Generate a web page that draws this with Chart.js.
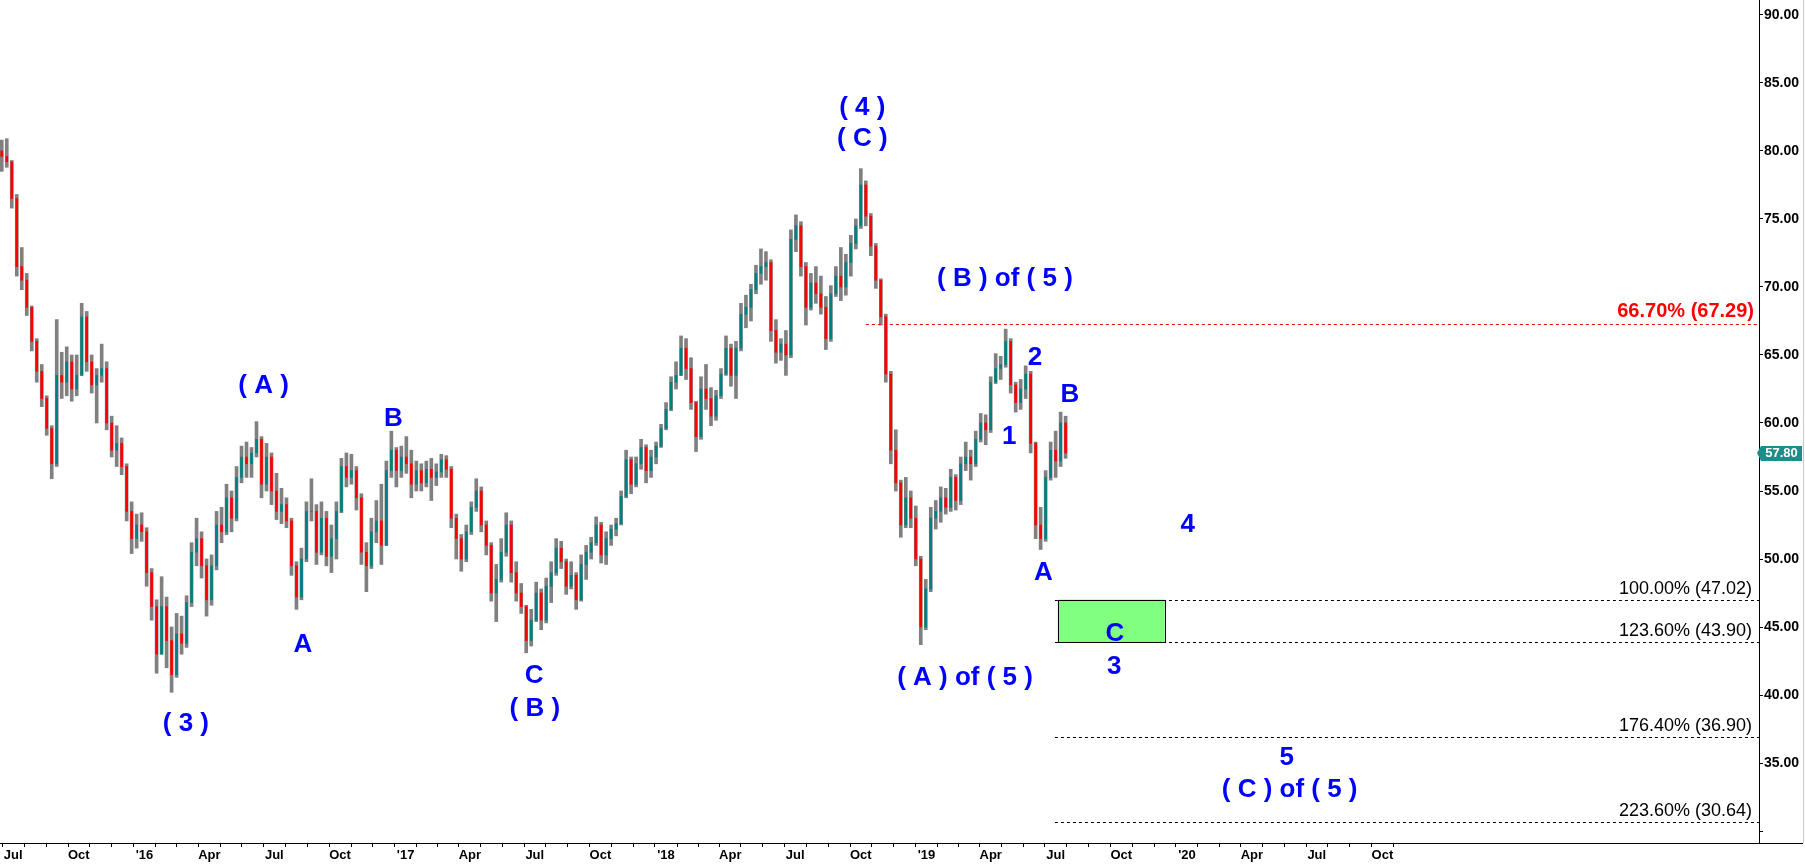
<!DOCTYPE html>
<html>
<head>
<meta charset="utf-8">
<title>Elliott wave count</title>
<script src="https://cdn.jsdelivr.net/npm/chart.js@4.4.1/dist/chart.umd.min.js"></script>
<style>
  html, body { margin: 0; padding: 0; background: #fff; }
  #wrap { width: 1805px; height: 866px; }
</style>
</head>
<body>
<div id="wrap"><canvas id="chart" width="1805" height="866"></canvas></div>
<script>
// one bar per week
const firstWeek = '2015-06-15';
const opens = [
  80.0, 79.6, 79.2, 76.5, 71.5, 70.5, 68.5, 66.0, 63.8, 61.8, 59.6, 57.0, 63.5, 63.0, 64.5, 62.5,
  63.5, 67.8, 64.5, 62.8, 63.5, 64.0, 60.0, 58.0, 58.5, 56.8, 53.5, 51.5, 52.5, 52.0, 49.0, 46.5,
  43.0, 46.5, 44.0, 41.5, 44.5, 43.8, 46.8, 50.5, 51.5, 49.5, 47.0, 49.5, 52.5, 52.0, 54.5, 53.0,
  56.0, 57.5, 57.0, 57.8, 58.8, 55.5, 57.5, 55.0, 53.5, 54.0, 52.8, 49.5, 47.2, 50.0, 53.5, 53.5,
  50.5, 53.0, 50.2, 51.5, 53.5, 56.8, 56.0, 56.5, 54.5, 50.5, 49.5, 52.0, 52.8, 51.0, 56.5, 58.0,
  56.5, 57.5, 57.0, 55.5, 56.5, 55.6, 56.6, 56.0, 56.4, 57.3, 56.6, 53.0, 51.5, 50.0, 52.0, 53.8,
  55.0, 52.5, 51.0, 47.5, 48.5, 50.5, 52.5, 49.0, 47.5, 46.5, 44.0, 45.5, 47.5, 45.5, 48.0, 49.0,
  50.8, 49.8, 48.0, 48.8, 47.0, 49.6, 50.5, 51.2, 52.5, 50.3, 51.5, 52.2, 52.6, 54.6, 57.3, 55.5,
  57.0, 58.2, 56.5, 57.5, 58.3, 59.6, 61.0, 63.0, 63.5, 65.5, 64.0, 61.5, 59.0, 62.5, 61.8, 60.5,
  62.0, 63.6, 65.5, 63.5, 65.5, 68.0, 68.5, 69.8, 71.0, 71.5, 71.8, 66.8, 65.2, 65.8, 65.0, 73.5,
  74.5, 71.5, 68.5, 70.3, 69.5, 68.5, 66.2, 69.5, 70.8, 70.0, 71.8, 73.2, 74.5, 77.5, 75.2, 73.0,
  70.5, 67.8, 63.6, 58.0, 55.6, 52.5, 54.5, 53.0, 50.0, 45.0, 47.8, 53.0, 53.5, 54.5, 53.8, 56.0,
  54.3, 57.0, 57.5, 57.0, 58.8, 60.0, 59.5, 63.0, 64.0, 64.3, 66.0, 62.8, 61.5, 62.5, 63.6, 58.5,
  52.5, 51.5, 56.0, 58.0, 57.2, 60.0
];
const highs = [
  80.8, 80.9, 79.3, 76.8, 72.9, 71.0, 68.6, 66.2, 64.3, 62.0, 59.8, 67.6, 65.2, 65.6, 65.0, 65.0,
  68.8, 68.2, 65.0, 64.0, 65.8, 64.5, 60.5, 59.8, 58.9, 57.0, 54.2, 53.3, 53.4, 52.3, 49.3, 47.0,
  48.7, 47.2, 45.0, 46.0, 45.8, 47.3, 51.2, 53.0, 52.0, 50.0, 50.3, 53.5, 53.8, 55.5, 55.0, 56.8,
  58.3, 58.6, 58.2, 60.1, 59.0, 58.5, 57.8, 56.3, 55.2, 54.5, 53.0, 49.8, 50.8, 54.2, 55.9, 54.0,
  54.2, 53.5, 52.5, 54.2, 57.4, 57.8, 57.7, 56.8, 54.8, 51.2, 53.0, 54.3, 55.5, 57.2, 59.4, 58.2,
  58.3, 59.0, 58.0, 57.2, 57.0, 57.2, 57.4, 57.0, 57.7, 57.6, 56.8, 53.3, 51.8, 52.5, 54.2, 55.9,
  55.3, 52.8, 51.2, 49.6, 51.5, 53.4, 52.8, 49.8, 48.2, 46.6, 46.3, 48.3, 47.8, 48.6, 49.8, 51.5,
  51.3, 50.0, 49.8, 49.0, 50.3, 51.0, 51.6, 53.1, 52.7, 52.0, 52.5, 53.0, 55.0, 58.0, 57.5, 57.5,
  58.8, 58.4, 58.0, 58.6, 59.9, 61.5, 63.4, 64.5, 66.4, 66.2, 64.8, 61.6, 63.4, 64.3, 62.6, 62.4,
  64.0, 66.4, 65.8, 66.0, 68.8, 69.4, 70.2, 71.6, 72.8, 72.6, 72.0, 67.6, 66.2, 66.8, 74.2, 75.3,
  74.8, 71.8, 71.0, 71.5, 70.8, 69.3, 70.1, 71.5, 72.9, 72.4, 73.8, 75.0, 78.7, 77.8, 75.4, 73.2,
  70.6, 68.0, 63.8, 59.5, 55.8, 56.0, 55.0, 53.9, 50.2, 48.5, 53.8, 54.3, 55.3, 55.2, 56.6, 56.2,
  57.5, 58.6, 58.0, 59.4, 60.7, 60.6, 63.4, 65.1, 64.9, 66.9, 66.2, 63.0, 63.2, 64.2, 63.8, 58.6,
  53.8, 56.5, 58.6, 59.4, 60.8, 60.5
];
const lows = [
  78.5, 78.8, 75.8, 70.8, 69.8, 67.9, 65.3, 63.0, 61.2, 59.1, 55.9, 56.8, 61.8, 62.0, 61.6, 62.0,
  63.5, 63.8, 62.2, 60.0, 63.0, 59.5, 57.5, 56.8, 56.2, 52.8, 50.4, 50.8, 51.3, 48.0, 45.5, 41.6,
  43.0, 42.0, 40.2, 41.3, 43.0, 43.5, 46.5, 49.5, 48.6, 45.8, 46.6, 49.2, 51.2, 51.8, 52.0, 52.8,
  55.6, 56.0, 56.0, 57.5, 54.5, 55.0, 54.0, 52.9, 52.6, 52.3, 48.8, 46.3, 47.0, 49.8, 52.8, 49.6,
  50.3, 49.5, 49.0, 50.0, 53.4, 55.3, 55.5, 53.6, 49.6, 47.6, 49.3, 51.2, 49.6, 51.0, 56.0, 55.3,
  56.0, 56.3, 54.5, 55.0, 55.0, 55.3, 54.3, 55.4, 56.0, 56.0, 52.3, 50.0, 49.1, 49.8, 51.8, 53.5,
  52.0, 50.3, 46.9, 45.4, 48.3, 50.2, 48.3, 46.9, 46.0, 43.1, 43.6, 45.4, 44.8, 45.3, 46.8, 48.8,
  49.3, 47.4, 47.8, 46.3, 46.9, 48.5, 50.0, 51.0, 49.7, 49.6, 51.0, 51.7, 52.5, 54.5, 54.8, 55.3,
  56.6, 55.6, 56.0, 57.0, 58.2, 59.5, 60.9, 62.5, 63.5, 63.2, 61.0, 57.9, 58.8, 61.0, 59.8, 60.2,
  61.8, 63.5, 62.7, 61.8, 65.3, 67.0, 67.5, 69.5, 70.2, 70.5, 66.0, 64.4, 64.6, 63.5, 64.8, 72.6,
  70.8, 67.2, 68.3, 68.8, 68.0, 65.4, 66.0, 69.3, 69.0, 69.4, 70.8, 72.8, 74.3, 74.5, 72.3, 69.9,
  67.2, 63.0, 57.0, 55.0, 51.6, 52.3, 52.3, 49.5, 43.7, 44.8, 47.6, 52.2, 52.7, 53.3, 53.5, 53.6,
  54.0, 56.5, 55.8, 56.8, 58.6, 58.4, 59.3, 62.9, 63.2, 64.1, 62.2, 60.8, 61.0, 61.8, 57.8, 51.5,
  50.7, 51.3, 55.8, 56.0, 56.8, 57.4
];
const closes = [
  79.6, 79.2, 76.5, 71.5, 70.5, 68.5, 66.0, 63.8, 61.8, 59.6, 57.0, 63.5, 63.0, 64.5, 62.5, 63.5,
  67.8, 64.5, 62.8, 63.5, 64.0, 60.0, 58.0, 58.5, 56.8, 53.5, 51.5, 52.5, 52.0, 49.0, 46.5, 43.0,
  46.5, 44.0, 41.5, 44.5, 43.8, 46.8, 50.5, 51.5, 49.5, 47.0, 49.5, 52.5, 52.0, 54.5, 53.0, 56.0,
  57.5, 57.0, 57.8, 58.8, 55.5, 57.5, 55.0, 53.5, 54.0, 52.8, 49.5, 47.2, 50.0, 53.5, 53.5, 50.5,
  53.0, 50.2, 51.5, 53.5, 56.8, 56.0, 56.5, 54.5, 50.5, 49.5, 52.0, 52.8, 51.0, 56.5, 58.0, 56.5,
  57.5, 57.0, 55.5, 56.5, 55.6, 56.6, 56.0, 56.4, 57.3, 56.6, 53.0, 51.5, 50.0, 52.0, 53.8, 55.0,
  52.5, 51.0, 47.5, 48.5, 50.5, 52.5, 49.0, 47.5, 46.5, 44.0, 45.5, 47.5, 45.5, 48.0, 49.0, 50.8,
  49.8, 48.0, 48.8, 47.0, 49.6, 50.5, 51.2, 52.5, 50.3, 51.5, 52.2, 52.6, 54.6, 57.3, 55.5, 57.0,
  58.2, 56.5, 57.5, 58.3, 59.6, 61.0, 63.0, 63.5, 65.5, 64.0, 61.5, 59.0, 62.5, 61.8, 60.5, 62.0,
  63.6, 65.5, 63.5, 65.5, 68.0, 68.5, 69.8, 71.0, 71.5, 71.8, 66.8, 65.2, 65.8, 65.0, 73.5, 74.5,
  71.5, 68.5, 70.3, 69.5, 68.5, 66.2, 69.5, 70.8, 70.0, 71.8, 73.2, 74.5, 77.5, 75.2, 73.0, 70.5,
  67.8, 63.6, 58.0, 55.6, 52.5, 54.5, 53.0, 50.0, 45.0, 47.8, 53.0, 53.5, 54.5, 53.8, 56.0, 54.3,
  57.0, 57.5, 57.0, 58.8, 60.0, 59.5, 63.0, 64.0, 64.3, 66.0, 62.8, 61.5, 62.5, 63.6, 58.5, 52.5,
  51.5, 56.0, 58.0, 57.2, 60.0, 57.8
];

const yTicks = [30, 35, 40, 45, 50, 55, 60, 65, 70, 75, 80, 85, 90];
const quarterNames = { 3: 'Apr', 6: 'Jul', 9: 'Oct' };

// projection levels drawn from the wave (A) low area
const fibLevels = [
  { label: '100.00% (47.02)', price: 47.02 },
  { label: '123.60% (43.90)', price: 43.90 },
  { label: '176.40% (36.90)', price: 36.90 },
  { label: '223.60% (30.64)', price: 30.64 }
];
const fibStart = '2019-06-30';
const retrace = { label: '66.70% (67.29)', price: 67.29, from: '2018-10-08' };
const targetZone = { from: '2019-07-04', to: '2019-12-01', top: 47.02, bottom: 43.90 };

const waveLabels = [
  { text: '( 3 )', date: '2016-02-28', price: 37.9 },
  { text: '( A )', date: '2016-06-16', price: 62.7 },
  { text: 'A', date: '2016-08-10', price: 43.7 },
  { text: 'B', date: '2016-12-15', price: 60.3 },
  { text: 'C', date: '2017-06-30', price: 41.4 },
  { text: '( B )', date: '2017-07-01', price: 39.0 },
  { text: '( 4 )', date: '2018-10-03', price: 83.2 },
  { text: '( C )', date: '2018-10-03', price: 80.9 },
  { text: '( B ) of ( 5 )', date: '2019-04-21', price: 70.6 },
  { text: '1', date: '2019-04-27', price: 59.0 },
  { text: '2', date: '2019-06-02', price: 64.8 },
  { text: 'A', date: '2019-06-14', price: 49.0 },
  { text: 'B', date: '2019-07-21', price: 62.1 },
  { text: '( A ) of ( 5 )', date: '2019-02-24', price: 41.3 },
  { text: 'C', date: '2019-09-22', price: 44.5 },
  { text: '3', date: '2019-09-21', price: 42.1 },
  { text: '4', date: '2020-01-02', price: 52.5 },
  { text: '5', date: '2020-05-20', price: 35.4 },
  { text: '( C ) of ( 5 )', date: '2020-05-24', price: 33.0 }
];

const FONT = 'Liberation Sans, Arial, sans-serif';
const EPOCH = Date.UTC(2016, 0, 1);
const dayOf = (s) => {
  const [yy, mm, dd] = s.split('-').map(Number);
  return (Date.UTC(yy, mm - 1, dd) - EPOCH) / 86400000;
};

const week0 = dayOf(firstWeek);
const wicks = highs.map((h, i) => ({ x: week0 + 7 * i, y: [lows[i], h] }));
const bodies = closes.map((c, i) => ({ x: week0 + 7 * i, y: [opens[i], c] }));
const bodyColors = closes.map((c, i) => (c >= opens[i] ? '#008080' : '#ff0000'));

// month ticks Jul 2015 .. Oct 2020
const monthTicks = [];
for (let i = 0; i <= 63; i++) {
  const d = new Date(Date.UTC(2015, 6 + i, 1));
  const m = d.getUTCMonth();
  let label = '';
  if (m === 0) label = "'" + String(d.getUTCFullYear()).slice(2);
  else if (quarterNames[m]) label = quarterNames[m];
  monthTicks.push({ value: (d.getTime() - EPOCH) / 86400000, label });
}

// keep the plot flush with the canvas edges
const noPad = (s) => { s.paddingTop = 0; s.paddingBottom = 0; s.paddingLeft = 0; s.paddingRight = 0; };

const overlay = {
  id: 'overlay',
  afterDatasetsDraw(chart) {
    const { ctx, chartArea: area, scales: { x, y } } = chart;
    ctx.save();

    // target zone
    const zx1 = x.getPixelForValue(dayOf(targetZone.from));
    const zx2 = x.getPixelForValue(dayOf(targetZone.to));
    const zy1 = y.getPixelForValue(targetZone.top);
    const zy2 = y.getPixelForValue(targetZone.bottom);
    ctx.fillStyle = '#80ff80';
    ctx.fillRect(zx1, zy1, zx2 - zx1, zy2 - zy1);
    ctx.strokeStyle = '#000';
    ctx.lineWidth = 1;
    ctx.strokeRect(Math.round(zx1) + 0.5, Math.round(zy1) + 0.5, Math.round(zx2 - zx1), Math.round(zy2 - zy1));

    // fib levels
    ctx.setLineDash([3, 3]);
    const fx = x.getPixelForValue(dayOf(fibStart));
    fibLevels.forEach(lv => {
      const py = Math.round(y.getPixelForValue(lv.price)) + 0.5;
      ctx.strokeStyle = '#000';
      ctx.beginPath();
      ctx.moveTo(fx, py);
      ctx.lineTo(area.right, py);
      ctx.stroke();
    });
    const ry = Math.round(y.getPixelForValue(retrace.price)) + 0.5;
    ctx.strokeStyle = '#ff0000';
    ctx.beginPath();
    ctx.moveTo(x.getPixelForValue(dayOf(retrace.from)), ry);
    ctx.lineTo(area.right, ry);
    ctx.stroke();
    ctx.setLineDash([]);

    ctx.textAlign = 'right';
    ctx.textBaseline = 'middle';
    ctx.fillStyle = '#000';
    ctx.font = '18px ' + FONT;
    fibLevels.forEach(lv => {
      ctx.fillText(lv.label, area.right - 7, y.getPixelForValue(lv.price) - 11);
    });
    ctx.fillStyle = '#ff0000';
    ctx.font = 'bold 20px ' + FONT;
    ctx.fillText(retrace.label, area.right - 5, ry - 13);

    // wave count
    ctx.textAlign = 'center';
    ctx.fillStyle = '#0000ff';
    ctx.font = 'bold 26px ' + FONT;
    waveLabels.forEach(w => {
      ctx.fillText(w.text, x.getPixelForValue(dayOf(w.date)), y.getPixelForValue(w.price));
    });
    ctx.restore();
  },
  afterDraw(chart) {
    const { ctx, chartArea: area, scales: { y } } = chart;
    const W = chart.width;
    ctx.save();
    // axis line continues under the price axis, light frame on the right
    ctx.strokeStyle = '#000';
    ctx.lineWidth = 1;
    ctx.beginPath();
    ctx.moveTo(area.right, area.bottom + 0.5);
    ctx.lineTo(W - 2, area.bottom + 0.5);
    ctx.stroke();
    ctx.strokeStyle = '#c8c8c8';
    ctx.beginPath();
    ctx.moveTo(W - 1.5, 0);
    ctx.lineTo(W - 1.5, area.bottom);
    ctx.stroke();

    // last price tag
    const last = closes[closes.length - 1];
    const py = y.getPixelForValue(last);
    ctx.fillStyle = '#1e8c88';
    ctx.beginPath();
    ctx.moveTo(area.right - 2, py);
    ctx.lineTo(area.right + 2, py - 7);
    ctx.lineTo(W - 3, py - 7);
    ctx.lineTo(W - 3, py + 8);
    ctx.lineTo(area.right + 2, py + 8);
    ctx.closePath();
    ctx.fill();
    ctx.fillStyle = '#fff';
    ctx.font = 'bold 13px ' + FONT;
    ctx.textAlign = 'center';
    ctx.textBaseline = 'middle';
    ctx.fillText(last.toFixed(2), (area.right + W - 3) / 2 + 1, py + 1);
    ctx.restore();
  }
};

new Chart(document.getElementById('chart'), {
  type: 'bar',
  data: {
    datasets: [
      { data: wicks, backgroundColor: '#808080', barThickness: 3, grouped: false, order: 2 },
      { data: bodies, backgroundColor: bodyColors, barThickness: 2, grouped: false, order: 1 }
    ]
  },
  options: {
    responsive: false,
    animation: false,
    devicePixelRatio: 1,
    layout: { padding: 0 },
    plugins: { legend: { display: false }, tooltip: { enabled: false } },
    scales: {
      x: {
        type: 'linear',
        offset: false,
        min: -202.5,
        max: 2262.8,
        afterBuildTicks: (s) => { s.ticks = monthTicks.map(t => ({ value: t.value })); },
        afterFit: (s) => { s.height = 23; noPad(s); },
        grid: { drawOnChartArea: false, tickLength: 4, color: '#000' },
        border: { color: '#000', width: 1 },
        ticks: {
          autoSkip: false,
          maxRotation: 0,
          padding: 1,
          color: '#000',
          font: { family: FONT, size: 13, weight: 'bold' },
          callback: (v, i) => monthTicks[i].label
        }
      },
      y: {
        type: 'linear',
        position: 'right',
        min: 29.12,
        max: 91.1,
        afterBuildTicks: (s) => { s.ticks = yTicks.map(v => ({ value: v })); },
        afterFit: (s) => { s.width = 46; noPad(s); },
        grid: { drawOnChartArea: false, tickLength: 4, color: '#000' },
        border: { color: '#000', width: 1 },
        ticks: {
          padding: 1,
          color: '#000',
          font: { family: FONT, size: 14, weight: 'bold' },
          callback: (v) => (v === 30 ? '' : v.toFixed(2))
        }
      }
    }
  },
  plugins: [overlay]
});
</script>
</body>
</html>
